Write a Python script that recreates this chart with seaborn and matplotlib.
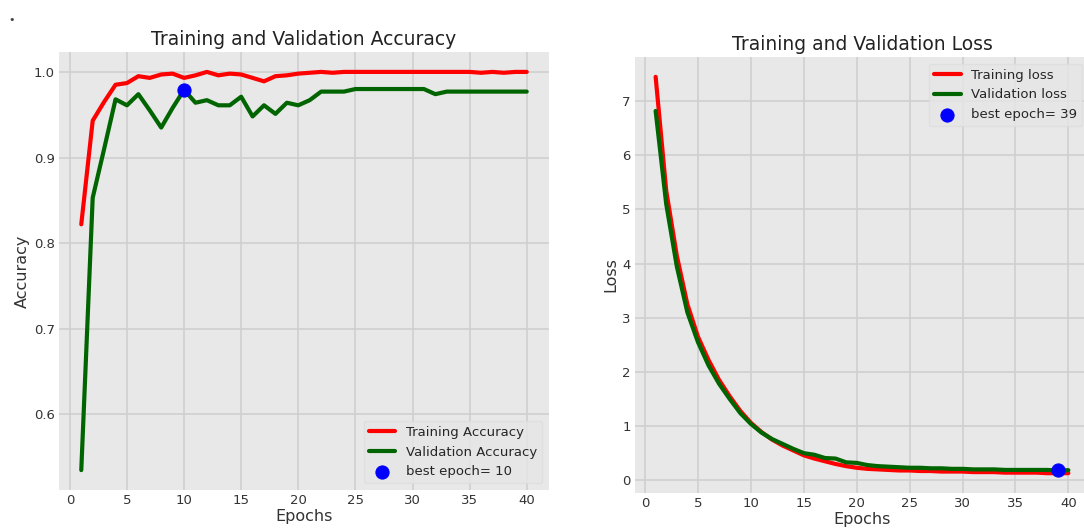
import numpy as np
import pandas as pd
import seaborn as sns
from matplotlib import pyplot as plt

sns.set_style("darkgrid", {"axes.facecolor": "#e8e8e8", "grid.color": "#cfcfcf"})
plt.rcParams['font.family'] = ['DejaVu Sans']

epochs = list(range(1, 41))

tr_acc = [0.822, 0.943, 0.965, 0.985, 0.987, 0.995, 0.993, 0.997, 0.998, 0.993,
          0.996, 1.000, 0.996, 0.998, 0.997, 0.993, 0.989, 0.995, 0.996, 0.998,
          0.999, 1.000, 0.999, 1.000, 1.000, 1.000, 1.000, 1.000, 1.000, 1.000,
          1.000, 1.000, 1.000, 1.000, 1.000, 0.999, 1.000, 0.999, 1.000, 1.000]
val_acc = [0.535, 0.853, 0.910, 0.968, 0.961, 0.974, 0.955, 0.935, 0.958, 0.979,
           0.964, 0.967, 0.961, 0.961, 0.971, 0.948, 0.961, 0.951, 0.964, 0.961,
           0.967, 0.977, 0.977, 0.977, 0.980, 0.980, 0.980, 0.980, 0.980, 0.980,
           0.980, 0.974, 0.977, 0.977, 0.977, 0.977, 0.977, 0.977, 0.977, 0.977]

tr_loss = [7.45, 5.35, 4.15, 3.25, 2.65, 2.22, 1.85, 1.55, 1.28, 1.06,
           0.89, 0.75, 0.64, 0.55, 0.46, 0.40, 0.35, 0.30, 0.26, 0.23,
           0.21, 0.20, 0.19, 0.18, 0.18, 0.17, 0.17, 0.16, 0.16, 0.16,
           0.15, 0.15, 0.15, 0.14, 0.14, 0.14, 0.14, 0.13, 0.13, 0.13]
val_loss = [6.82, 5.10, 3.95, 3.10, 2.55, 2.12, 1.78, 1.50, 1.24, 1.04,
            0.88, 0.76, 0.67, 0.58, 0.50, 0.47, 0.41, 0.40, 0.33, 0.32,
            0.28, 0.26, 0.25, 0.24, 0.23, 0.23, 0.22, 0.22, 0.21, 0.21,
            0.20, 0.20, 0.20, 0.19, 0.19, 0.19, 0.19, 0.19, 0.18, 0.185]

best_acc_ep = 10
best_loss_ep = 39

fig = plt.figure(figsize=(10.84, 5.29), dpi=100)
ax1 = fig.add_axes([59/1084, 1 - 490/529, 490/1084, 438/529])
ax2 = fig.add_axes([635/1084, 1 - 493/529, 454/1084, 436/529])

# stray bullet from the notebook screenshot
fig.text(8/1084, 1 - 20/529, '•', fontsize=8, color='#444444', va='center')

for ax in (ax1, ax2):
    ax.grid(True, color='#cfcfcf', linewidth=1.2)
    ax.tick_params(length=0, labelsize=9.5, labelcolor='#333333', pad=3)
    for s in ax.spines.values():
        s.set_visible(False)

sns.lineplot(x=epochs, y=tr_acc, color='red', lw=3, label='Training Accuracy', ax=ax1)
sns.lineplot(x=epochs, y=val_acc, color='darkgreen', lw=3, label='Validation Accuracy', ax=ax1)
sns.scatterplot(x=[best_acc_ep], y=[val_acc[best_acc_ep - 1]], s=90, color='blue',
                edgecolor='blue', label=f'best epoch= {best_acc_ep}', ax=ax1, zorder=5)
ax1.set_title('Training and Validation Accuracy', fontsize=13.5, color='#222222', pad=5)
ax1.set_xlabel('Epochs', fontsize=11.5, color='#333333', labelpad=1)
ax1.set_ylabel('Accuracy', fontsize=11.5, color='#333333', labelpad=3)
ax1.legend(loc='lower right', fontsize=9.5, facecolor='#e6e6e6', edgecolor='#dddddd')

sns.lineplot(x=epochs, y=tr_loss, color='red', lw=3, label='Training loss', ax=ax2)
sns.lineplot(x=epochs, y=val_loss, color='darkgreen', lw=3, label='Validation loss', ax=ax2)
sns.scatterplot(x=[best_loss_ep], y=[val_loss[best_loss_ep - 1]], s=90, color='blue',
                edgecolor='blue', label=f'best epoch= {best_loss_ep}', ax=ax2, zorder=5)
ax2.set_title('Training and Validation Loss', fontsize=13.5, color='#222222', pad=5)
ax2.set_xlabel('Epochs', fontsize=11.5, color='#333333', labelpad=1)
ax2.set_ylabel('Loss', fontsize=11.5, color='#333333', labelpad=3)
ax2.legend(loc='upper right', fontsize=9.5, facecolor='#e6e6e6', edgecolor='#dddddd')

fig.savefig('out.png', dpi=100, facecolor='white')
